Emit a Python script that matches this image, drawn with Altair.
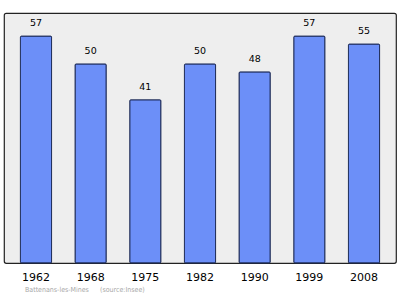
import altair as alt
import pandas as pd

years = ["1962", "1968", "1975", "1982", "1990", "1999", "2008"]
population = [57, 50, 41, 50, 48, 57, 55]
footer_texts = ["Battenans-les-Mines", "(source:Insee)"]

df = pd.DataFrame({"year": years, "pop": population})
foot = pd.DataFrame({"t": [footer_texts[0]]})
foot2 = pd.DataFrame({"t": [footer_texts[1]]})

x = alt.X("year:O", sort=years,
          scale=alt.Scale(paddingInner=0.43, paddingOuter=0.3),
          axis=alt.Axis(title=None, labelAngle=0, labelFontSize=11, labelFont="DejaVu Sans",
                        labelColor="#000000", ticks=False, domain=False, labelPadding=8))
y = alt.Y("pop:Q", scale=alt.Scale(domain=[0, 62.8], nice=False), axis=None)

bars = alt.Chart(df).mark_bar(color="#6c8ff8", stroke="#1f2d5a", strokeWidth=1,
                              cornerRadius=1).encode(x=x, y=y)
labels = alt.Chart(df).mark_text(dy=-8, fontSize=9.5, font="DejaVu Sans", color="#000000",
                                 baseline="bottom").encode(x=x, y=y, text="pop:Q")
footer1 = alt.Chart(foot).mark_text(align="left", baseline="middle", fontSize=7,
                                    font="DejaVu Sans Condensed", fontWeight="normal",
                                    color="#a8a8a8").encode(
    x=alt.value(21), y=alt.value(277), text="t:N")
footer2 = alt.Chart(foot2).mark_text(align="left", baseline="middle", fontSize=7,
                                     font="DejaVu Sans Condensed", fontWeight="normal",
                                     color="#a8a8a8").encode(
    x=alt.value(96), y=alt.value(277), text="t:N")

chart = alt.layer(bars, labels, footer1, footer2).properties(
    width=392, height=250,
    autosize=alt.AutoSizeParams(type="none"),
    padding={"left": 4, "top": 13, "right": 4, "bottom": 36},
    background="#ffffff",
).configure_view(fill="#eeeeee", stroke="#222222", strokeWidth=1.2, cornerRadius=2)

chart.save("out.html", embed_options={"renderer": "svg", "actions": False})
